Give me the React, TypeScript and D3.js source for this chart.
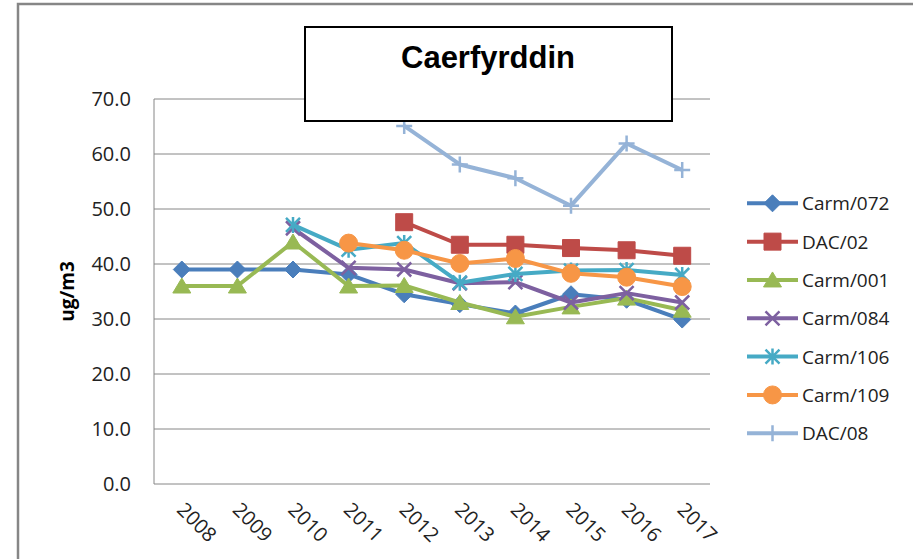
import React, { useEffect, useRef } from 'react';
import * as d3 from 'd3';

const years = ['2008', '2009', '2010', '2011', '2012', '2013', '2014', '2015', '2016', '2017'];
const yTicks = [0, 10, 20, 30, 40, 50, 60, 70];

const carm072 = [39, 39, 39, 38.1, 34.5, 32.7, 31.0, 34.5, 33.5, 29.9];
const dac02 = [null, null, null, null, 47.6, 43.5, 43.5, 42.9, 42.5, 41.5];
const carm001 = [36, 36, 44, 36, 36.1, 33.0, 30.4, 32.2, 33.8, 31.6];
const carm084 = [null, null, 46.5, 39.3, 39.0, 36.5, 36.7, 33.0, 34.7, 33.0];
const carm106 = [null, null, 47.1, 42.6, 43.8, 36.6, 38.2, 38.8, 38.9, 38.0];
const carm109 = [null, null, null, 43.8, 42.5, 40.1, 41.0, 38.3, 37.6, 35.9];
const dac08 = [null, null, null, null, 65.1, 58.1, 55.6, 50.6, 61.9, 57.1];

const seriesNames = ['Carm/072', 'DAC/02', 'Carm/001', 'Carm/084', 'Carm/106', 'Carm/109', 'DAC/08'];
const seriesValues = [carm072, dac02, carm001, carm084, carm106, carm109, dac08];
const colors = ['#4A7EBB', '#BE4B48', '#98B954', '#7D60A0', '#46AAC5', '#F79646', '#95B3D7'];
const markers = ['diamond', 'square', 'triangle', 'x', 'star', 'circle', 'plus'];

const W = 913;
const H = 559;
const plot = { left: 154, right: 710, top: 99, bottom: 484 };

function markerPath(kind: string): string {
  const p = d3.path();
  if (kind === 'diamond') {
    const r = 8.5;
    p.moveTo(0, -r); p.lineTo(r, 0); p.lineTo(0, r); p.lineTo(-r, 0); p.closePath();
  } else if (kind === 'square') {
    const r = 8.5;
    p.rect(-r, -r, 2 * r, 2 * r);
  } else if (kind === 'triangle') {
    p.moveTo(0, -8); p.lineTo(9, 7); p.lineTo(-9, 7); p.closePath();
  } else if (kind === 'circle') {
    p.arc(0, 0, 9, 0, Math.PI * 2);
  } else if (kind === 'x') {
    const r = 7;
    p.moveTo(-r, -r); p.lineTo(r, r); p.moveTo(r, -r); p.lineTo(-r, r);
  } else if (kind === 'star') {
    const r = 7;
    p.moveTo(-r, -r); p.lineTo(r, r); p.moveTo(r, -r); p.lineTo(-r, r);
    p.moveTo(0, -r - 1); p.lineTo(0, r + 1);
  } else if (kind === 'plus') {
    const r = 8;
    p.moveTo(-r, 0); p.lineTo(r, 0); p.moveTo(0, -r); p.lineTo(0, r);
  }
  return p.toString();
}

const isStroke = (k: string) => k === 'x' || k === 'star' || k === 'plus';

const App = () => {
  const svgRef = useRef<SVGSVGElement>(null);

  useEffect(() => {
    const svg = d3.select(svgRef.current);
    svg.selectAll('*').remove();

    const x = d3.scaleBand().domain(years).range([plot.left, plot.right]);
    const y = d3.scaleLinear().domain([0, 70]).range([plot.bottom, plot.top]);

    // outer chart border (only left and top visible)
    svg.append('rect')
      .attr('x', 18).attr('y', 4).attr('width', 1200).attr('height', 1200)
      .attr('fill', 'white').attr('stroke', '#868686').attr('stroke-width', 2.5);

    // gridlines
    svg.append('g')
      .selectAll('line')
      .data(yTicks)
      .join('line')
      .attr('x1', plot.left).attr('x2', plot.right)
      .attr('y1', (d) => y(d)).attr('y2', (d) => y(d))
      .attr('stroke', '#868686').attr('stroke-width', 1);

    svg.append('line')
      .attr('x1', plot.left).attr('x2', plot.left)
      .attr('y1', plot.top).attr('y2', plot.bottom)
      .attr('stroke', '#868686');

    // y tick labels
    svg.append('g')
      .selectAll('text')
      .data(yTicks)
      .join('text')
      .attr('x', 131).attr('y', (d) => y(d) + 7)
      .attr('text-anchor', 'end')
      .attr('font-family', 'Open Sans')
      .attr('font-size', 20)
      .attr('fill', '#222')
      .text((d) => d.toFixed(1));

    // x labels
    svg.append('g')
      .selectAll('text')
      .data(years)
      .join('text')
      .attr('transform', (d) => `translate(${(x(d) as number) + x.bandwidth() / 2 - 6},${511}) rotate(45)`)
      .attr('font-family', 'Open Sans')
      .attr('font-size', 20)
      .attr('fill', '#222')
      .text((d) => d);

    // y axis title
    svg.append('text')
      .attr('transform', `translate(74,${(plot.top + plot.bottom) / 2}) rotate(-90)`)
      .attr('text-anchor', 'middle')
      .attr('font-family', 'Open Sans')
      .attr('font-weight', 'bold')
      .attr('font-size', 19)
      .attr('fill', '#000')
      .text('ug/m3');

    const cx = (i: number) => (x(years[i]) as number) + x.bandwidth() / 2;

    seriesValues.forEach((vals, si) => {
      const g = svg.append('g');
      const line = d3.line<number | null>()
        .defined((d) => d !== null)
        .x((_, i) => cx(i))
        .y((d) => y(d as number));
      g.append('path')
        .attr('d', line(vals) as string)
        .attr('fill', 'none')
        .attr('stroke', colors[si])
        .attr('stroke-width', 4)
        .attr('stroke-linejoin', 'round');
      const pts = vals.map((v, i) => ({ v, i })).filter((d) => d.v !== null);
      g.selectAll('path.m')
        .data(pts)
        .join('path')
        .attr('class', 'm')
        .attr('transform', (d) => `translate(${cx(d.i)},${y(d.v as number)})`)
        .attr('d', markerPath(markers[si]))
        .attr('fill', isStroke(markers[si]) ? 'none' : colors[si])
        .attr('stroke', colors[si])
        .attr('stroke-width', isStroke(markers[si]) ? 2.5 : 1);
    });

    // legend
    const leg = svg.append('g');
    seriesNames.forEach((name, i) => {
      const ly = 203.3 + i * 38.33;
      leg.append('line')
        .attr('x1', 747).attr('x2', 798).attr('y1', ly).attr('y2', ly)
        .attr('stroke', colors[i]).attr('stroke-width', 4);
      leg.append('path')
        .attr('transform', `translate(772.5,${ly})`)
        .attr('d', markerPath(markers[i]))
        .attr('fill', isStroke(markers[i]) ? 'none' : colors[i])
        .attr('stroke', colors[i])
        .attr('stroke-width', isStroke(markers[i]) ? 2.5 : 1);
      leg.append('text')
        .attr('x', 802).attr('y', ly + 7)
        .attr('font-family', 'Open Sans')
        .attr('font-size', 19)
        .attr('fill', '#222')
        .text(name);
    });

    // title box
    svg.append('rect')
      .attr('x', 305).attr('y', 27).attr('width', 367).attr('height', 94)
      .attr('fill', 'white').attr('stroke', '#000').attr('stroke-width', 2);
    svg.append('text')
      .attr('x', 488).attr('y', 68)
      .attr('text-anchor', 'middle')
      .attr('font-family', 'Liberation Sans, Arial')
      .attr('font-weight', 'bold')
      .attr('font-size', 31)
      .attr('fill', '#000')
      .text('Caerfyrddin');
  }, []);

  return (
    <div style={{ position: 'absolute', left: 0, top: 0 }}>
      <svg ref={svgRef} width={W} height={H} style={{ display: 'block', background: 'white' }} />
    </div>
  );
};

export default App;
